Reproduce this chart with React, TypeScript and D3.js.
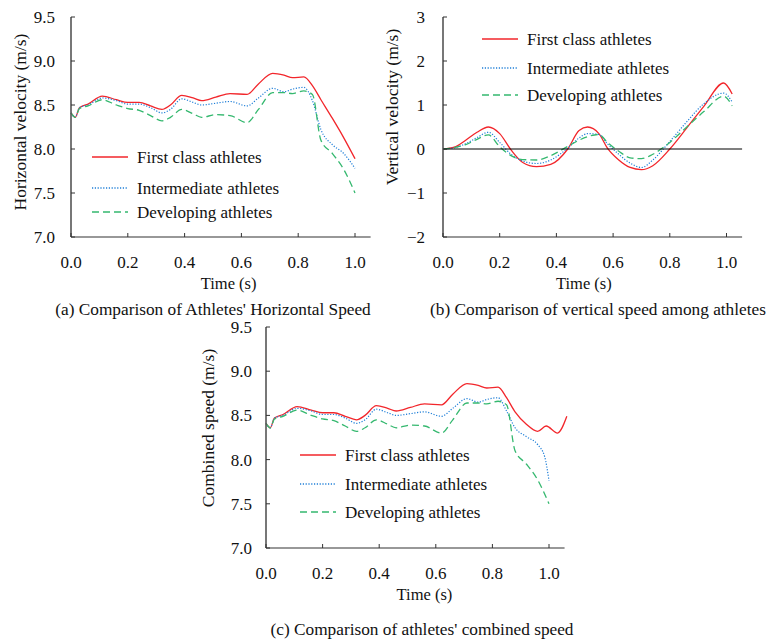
import React from 'react';
import * as d3 from 'd3';

// ---- data ----
const seriesNames = ['First class athletes', 'Intermediate athletes', 'Developing athletes'];

// (a) horizontal velocity
const timeA = [0, 0.015, 0.03, 0.06, 0.11, 0.16, 0.2, 0.24, 0.28, 0.32, 0.35, 0.39, 0.43, 0.46, 0.51, 0.56, 0.62, 0.66, 0.71, 0.75, 0.78, 0.82, 0.85, 0.88, 0.92, 0.96, 1.0];
const firstH = [8.41, 8.36, 8.47, 8.51, 8.6, 8.56, 8.53, 8.53, 8.49, 8.45, 8.5, 8.61, 8.58, 8.55, 8.59, 8.63, 8.62, 8.74, 8.86, 8.84, 8.81, 8.82, 8.72, 8.56, 8.35, 8.13, 7.89];
const interH = [8.41, 8.36, 8.47, 8.5, 8.58, 8.55, 8.51, 8.51, 8.47, 8.41, 8.45, 8.57, 8.53, 8.5, 8.52, 8.54, 8.49, 8.58, 8.69, 8.65, 8.68, 8.7, 8.55, 8.22, 8.05, 7.95, 7.78];
const develH = [8.41, 8.36, 8.46, 8.49, 8.56, 8.5, 8.46, 8.44, 8.38, 8.32, 8.36, 8.45, 8.4, 8.36, 8.39, 8.38, 8.3, 8.45, 8.64, 8.64, 8.63, 8.66, 8.62, 8.1, 7.95, 7.77, 7.5];

// (b) vertical velocity
const timeB = [0, 0.04, 0.08, 0.12, 0.16, 0.2, 0.24, 0.28, 0.33, 0.38, 0.44, 0.48, 0.51, 0.55, 0.58, 0.62, 0.66, 0.7, 0.74, 0.8, 0.86, 0.92, 0.99, 1.02];
const firstV = [0, 0.04, 0.2, 0.38, 0.5, 0.35, -0.02, -0.3, -0.4, -0.35, 0, 0.42, 0.5, 0.35, 0.02, -0.25, -0.42, -0.47, -0.38, 0, 0.48, 0.97, 1.5, 1.25];
const interV = [0, 0.03, 0.12, 0.26, 0.38, 0.15, -0.12, -0.27, -0.33, -0.25, 0.02, 0.25, 0.35, 0.33, 0.12, -0.12, -0.32, -0.42, -0.25, 0.17, 0.62, 1.03, 1.27, 1.07];
const develV = [0, 0.03, 0.1, 0.22, 0.32, 0.05, -0.15, -0.24, -0.25, -0.15, 0.06, 0.2, 0.28, 0.33, 0.15, -0.05, -0.2, -0.22, -0.12, 0.15, 0.5, 0.85, 1.2, 0.98];

// (c) combined speed
const timeCFirst = [0, 0.015, 0.03, 0.06, 0.11, 0.16, 0.2, 0.24, 0.28, 0.32, 0.35, 0.39, 0.43, 0.46, 0.51, 0.56, 0.62, 0.66, 0.71, 0.75, 0.78, 0.82, 0.85, 0.88, 0.92, 0.96, 0.99, 1.03, 1.063];
const firstC = [8.41, 8.36, 8.47, 8.51, 8.6, 8.56, 8.53, 8.53, 8.49, 8.45, 8.5, 8.61, 8.58, 8.55, 8.59, 8.63, 8.62, 8.74, 8.86, 8.84, 8.81, 8.82, 8.7, 8.54, 8.4, 8.32, 8.38, 8.3, 8.49];
const timeCInter = [0, 0.015, 0.03, 0.06, 0.11, 0.16, 0.2, 0.24, 0.28, 0.32, 0.35, 0.39, 0.43, 0.46, 0.51, 0.56, 0.62, 0.66, 0.71, 0.75, 0.78, 0.82, 0.85, 0.88, 0.92, 0.96, 0.985, 1.0];
const interC = [8.41, 8.36, 8.47, 8.5, 8.58, 8.55, 8.51, 8.51, 8.47, 8.41, 8.45, 8.57, 8.53, 8.5, 8.52, 8.54, 8.49, 8.58, 8.69, 8.65, 8.68, 8.7, 8.55, 8.36, 8.26, 8.17, 8.03, 7.76];
const develC = develH;

const ticks = [0, 0.2, 0.4, 0.6, 0.8, 1.0];
const speedTicks = [7.0, 7.5, 8.0, 8.5, 9.0, 9.5];
const vertTicks = [-2, -1, 0, 1, 2, 3];

const colors = ['#f2262b', '#1f7fd8', '#35b86f'];
const dashes = [null, '1.2,1.6', '7,4'];

const font = '"Liberation Serif", "Times New Roman", serif';

const Panel = ({ cfg }) => {
  const x = d3.scaleLinear().domain([0, 1]).range([cfg.left, cfg.left + cfg.w]);
  const y = d3.scaleLinear().domain(cfg.yDomain).range([cfg.bottom, cfg.top]);
  const line = d3.line().x(d => x(d[0])).y(d => y(d[1])).curve(d3.curveMonotoneX);
  const xEnd = x(1.055);

  return (
    <g fontFamily={font} fill="#111">
      {/* plot lines */}
      {cfg.series.map((s, i) => (
        <path key={i} d={line(s.v.map((v, j) => [s.t[j], v]))} fill="none" stroke={colors[i]}
          strokeWidth={i === 1 ? 1.2 : 1.3} strokeDasharray={dashes[i] || undefined} />
      ))}
      {cfg.zeroLine && <line x1={cfg.left} x2={xEnd} y1={y(0)} y2={y(0)} stroke="#000" strokeWidth={1.2} />}
      {/* axes */}
      <line x1={cfg.left} x2={cfg.left} y1={cfg.top} y2={cfg.bottom} stroke="#555" strokeWidth={1.6} />
      <line x1={cfg.left} x2={xEnd} y1={cfg.bottom} y2={cfg.bottom} stroke="#333" strokeWidth={1.2} />
      {cfg.yTicks.map(t => (
        <g key={t}>
          <line x1={cfg.left} x2={cfg.left + 4} y1={y(t)} y2={y(t)} stroke="#333" />
          <text x={cfg.left - cfg.yLabelGap} y={y(t) + 6} fontSize={17} textAnchor="end">{cfg.fmt(t)}</text>
        </g>
      ))}
      {ticks.map(t => (
        <g key={t}>
          <line x1={x(t)} x2={x(t)} y1={cfg.bottom} y2={cfg.bottom - 4} stroke="#333" />
          <text x={x(t)} y={cfg.bottom + 31} fontSize={17} textAnchor="middle">{t.toFixed(1)}</text>
        </g>
      ))}
      <text x={x(cfg.timeX)} y={cfg.bottom + 52} fontSize={16.5} textAnchor="middle">Time (s)</text>
      <text transform={`translate(${cfg.yTitle[0]},${cfg.yTitle[1]}) rotate(-90)`} fontSize={17.5} textAnchor="middle">{cfg.yTitleText}</text>
      {/* legend */}
      {seriesNames.map((n, i) => (
        <g key={n}>
          <line x1={cfg.legend[0]} x2={cfg.legend[0] + 36} y1={cfg.legendY[i]} y2={cfg.legendY[i]}
            stroke={colors[i]} strokeWidth={1.3} strokeDasharray={dashes[i] || undefined} />
          <text x={cfg.legend[0] + 45} y={cfg.legendY[i] + 6} fontSize={17}>{n}</text>
        </g>
      ))}
      <text x={cfg.caption[0]} y={cfg.caption[1]} fontSize={17.3} textAnchor={cfg.captionAnchor}>{cfg.captionText}</text>
    </g>
  );
};

const panels = [
  {
    left: 71, w: 284, top: 17, bottom: 237, yDomain: [7, 9.5], yTicks: speedTicks, fmt: d3.format('.1f'), yLabelGap: 16,
    series: [{ t: timeA, v: firstH }, { t: timeA, v: interH }, { t: timeA, v: develH }],
    yTitle: [26, 122], yTitleText: 'Horizontal velocity (m/s)', timeX: 0.555,
    legend: [92, 0], legendY: [157, 188, 212],
    caption: [213, 315], captionAnchor: 'middle', captionText: "(a) Comparison of Athletes' Horizontal Speed",
  },
  {
    left: 443, w: 283.5, top: 17, bottom: 237, yDomain: [-2, 3], yTicks: vertTicks, fmt: d3.format('d'), yLabelGap: 18,
    series: [{ t: timeB, v: firstV }, { t: timeB, v: interV }, { t: timeB, v: develV }], zeroLine: true,
    yTitle: [398, 107], yTitleText: 'Vertical velocity (m/s)', timeX: 0.497,
    legend: [482, 0], legendY: [39, 68, 95],
    caption: [430, 315], captionAnchor: 'start', captionText: '(b) Comparison of vertical speed among athletes',
  },
  {
    left: 266, w: 283, top: 327, bottom: 548, yDomain: [7, 9.5], yTicks: speedTicks, fmt: d3.format('.1f'), yLabelGap: 14,
    series: [{ t: timeCFirst, v: firstC }, { t: timeCInter, v: interC }, { t: timeA, v: develC }],
    yTitle: [214, 428], yTitleText: 'Combined speed (m/s)', timeX: 0.56,
    legend: [300, 0], legendY: [455, 484, 512],
    caption: [422, 635], captionAnchor: 'middle', captionText: "(c) Comparison of athletes' combined speed",
  },
];

export default function App() {
  return (
    <svg width={767} height={641} style={{ position: 'absolute', left: 0, top: 0, background: '#fff', overflow: 'hidden' }}>
      <rect width={767} height={641} fill="#fff" />
      {panels.map((p, i) => <Panel key={i} cfg={p} />)}
    </svg>
  );
}
